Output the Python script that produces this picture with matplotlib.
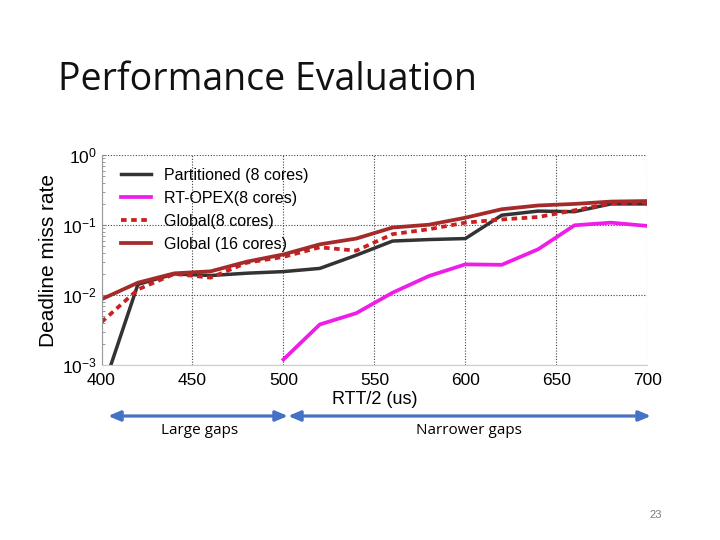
import matplotlib
matplotlib.use("Agg")
import matplotlib.pyplot as plt
from matplotlib.ticker import LogLocator, NullFormatter

plt.rcParams["font.family"] = ["Liberation Sans", "DejaVu Sans"]
plt.rcParams["mathtext.fontset"] = "custom"
plt.rcParams["mathtext.rm"] = "Liberation Sans"
plt.rcParams["mathtext.it"] = "Liberation Sans:italic"

rtt = [400, 420, 440, 460, 480, 500, 520, 540, 560, 580, 600, 620, 640, 660, 680, 700]
partitioned = [0.0004, 0.0142, 0.020, 0.019, 0.0205, 0.0216, 0.024, 0.037, 0.059, 0.062, 0.064,
               0.138, 0.158, 0.155, 0.20, 0.20]
rtopex_x = [500, 520, 540, 560, 580, 600, 620, 640, 660, 680, 700]
rtopex = [0.0012, 0.0038, 0.0055, 0.0108, 0.0187, 0.0274, 0.027, 0.045, 0.099, 0.108, 0.097]
global8 = [0.0041, 0.012, 0.020, 0.0177, 0.029, 0.035, 0.048, 0.043, 0.074, 0.087, 0.108,
           0.12, 0.13, 0.162, 0.204, 0.209]
global16 = [0.0087, 0.015, 0.0204, 0.0218, 0.030, 0.038, 0.053, 0.064, 0.092, 0.101, 0.127,
            0.168, 0.19, 0.20, 0.216, 0.22]
labels = ["Partitioned (8 cores)", "RT-OPEX(8 cores)", "Global(8 cores)", "Global (16 cores)"]
xticks = [400, 450, 500, 550, 600, 650, 700]

fig = plt.figure(figsize=(7.2, 5.4), dpi=100)
fig.patch.set_facecolor("white")

fig.text(0.081, 0.852, "Performance Evaluation", fontsize=27, family="Open Sans",
         color="#111111", ha="left", va="center")

ax = fig.add_axes([0.141, 0.324, 0.758, 0.389])
ax.plot(rtt, partitioned, color="#333333", lw=2.5, label=labels[0])
ax.plot(rtopex_x, rtopex, color="#ee1ee8", lw=2.7, label=labels[1])
ax.plot(rtt, global8, color="#cc1f1f", lw=2.7, ls=(0, (1.5, 1.2)), label=labels[2])
ax.plot(rtt, global16, color="#a52a2a", lw=2.7, label=labels[3])

ax.set_yscale("log")
ax.set_xlim(400, 700)
ax.set_ylim(1e-3, 1)
ax.set_xticks(xticks)
ax.set_xticklabels([str(t) for t in xticks])
ax.yaxis.set_major_locator(LogLocator(base=10, numticks=10))
ax.yaxis.set_minor_locator(LogLocator(base=10, subs=range(2, 10), numticks=20))
ax.yaxis.set_minor_formatter(NullFormatter())
ax.tick_params(axis="both", which="major", labelsize=12.5, length=3, direction="in", color="#888888")
ax.tick_params(axis="y", which="minor", length=2, direction="in", color="#888888")
ax.tick_params(axis="x", which="major", length=0, pad=6)
ax.grid(True, which="major", ls=(0, (1, 1.5)), color="#444444", lw=0.8)
for s in ["top", "right"]:
    ax.spines[s].set_visible(False)
ax.spines["left"].set_color("#999999")
ax.spines["bottom"].set_color("#cccccc")
ax.set_xlabel("RTT/2 (us)", fontsize=13, labelpad=2)
ax.set_ylabel("Deadline miss rate", fontsize=15, labelpad=3)

leg = ax.legend(loc="upper left", frameon=False, fontsize=11.5, handlelength=1.9,
                borderaxespad=0.2, labelspacing=0.5, handletextpad=0.8,
                bbox_to_anchor=(0.018, 0.985))

# arrows below the chart
arrow_kw = dict(arrowstyle="<|-|>,head_length=0.6,head_width=0.25", color="#4472c4", lw=2.3,
                shrinkA=0, shrinkB=0)
fig.add_artist(matplotlib.patches.FancyArrowPatch((108 / 720, 1 - 416 / 540), (288 / 720, 1 - 416 / 540),
                                                  transform=fig.transFigure, mutation_scale=12,
                                                  **arrow_kw))
fig.add_artist(matplotlib.patches.FancyArrowPatch((288 / 720, 1 - 416 / 540), (651 / 720, 1 - 416 / 540),
                                                  transform=fig.transFigure, mutation_scale=12,
                                                  **arrow_kw))
fig.text(200 / 720, 1 - 430 / 540, "Large gaps", fontsize=11, family="Open Sans", ha="center", va="center")
fig.text(469 / 720, 1 - 430 / 540, "Narrower gaps", fontsize=11, family="Open Sans", ha="center", va="center")
fig.text(656 / 720, 1 - 515 / 540, "23", fontsize=8, color="#777777", ha="center", va="center")

fig.savefig("out.png", dpi=100, facecolor="white")
